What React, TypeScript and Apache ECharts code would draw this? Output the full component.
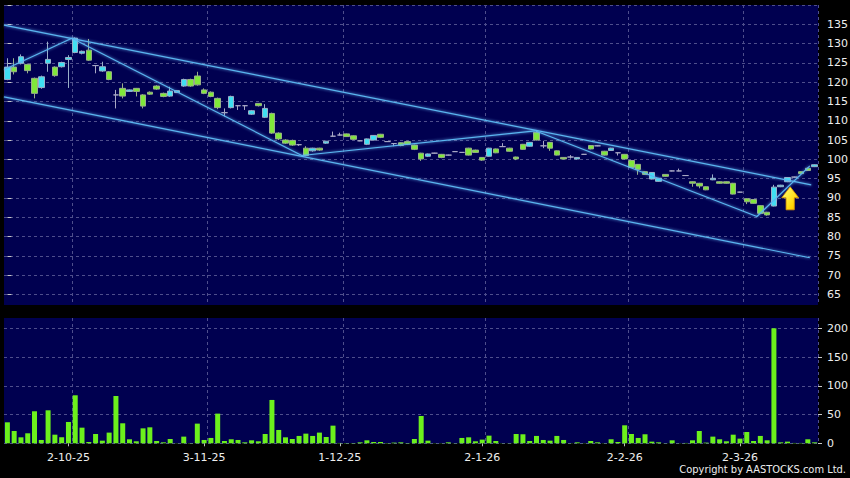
import React, { useEffect, useRef } from "react";
import * as echarts from "echarts";

// Trading days (d-m-yy)
const categories: string[] = [
  "18-9-25", "19-9-25", "22-9-25", "23-9-25", "24-9-25", "25-9-25", "26-9-25", "29-9-25", "30-9-25",
  "2-10-25", "3-10-25", "6-10-25", "8-10-25", "9-10-25", "10-10-25", "13-10-25", "14-10-25", "15-10-25", "16-10-25", "17-10-25",
  "20-10-25", "21-10-25", "22-10-25", "23-10-25", "24-10-25", "27-10-25", "28-10-25", "30-10-25", "31-10-25",
  "3-11-25", "4-11-25", "5-11-25", "6-11-25", "7-11-25", "10-11-25", "11-11-25", "12-11-25", "13-11-25", "14-11-25",
  "17-11-25", "18-11-25", "19-11-25", "20-11-25", "21-11-25", "24-11-25", "25-11-25", "26-11-25", "27-11-25", "28-11-25",
  "1-12-25", "2-12-25", "3-12-25", "4-12-25", "5-12-25", "8-12-25", "9-12-25", "10-12-25", "11-12-25", "12-12-25",
  "15-12-25", "16-12-25", "17-12-25", "18-12-25", "19-12-25", "22-12-25", "23-12-25", "24-12-25", "29-12-25", "30-12-25", "31-12-25",
  "2-1-26", "5-1-26", "6-1-26", "7-1-26", "8-1-26", "9-1-26", "12-1-26", "13-1-26", "14-1-26", "15-1-26", "16-1-26",
  "19-1-26", "20-1-26", "21-1-26", "22-1-26", "23-1-26", "26-1-26", "27-1-26", "28-1-26", "29-1-26", "30-1-26",
  "2-2-26", "3-2-26", "4-2-26", "5-2-26", "6-2-26", "9-2-26", "10-2-26", "11-2-26", "12-2-26", "13-2-26",
  "16-2-26", "20-2-26", "23-2-26", "24-2-26", "25-2-26", "26-2-26", "27-2-26",
  "2-3-26", "3-3-26", "4-3-26", "5-3-26", "6-3-26", "9-3-26", "10-3-26", "11-3-26", "12-3-26", "13-3-26", "16-3-26", "17-3-26",
];

const tickLabels: string[] = ["2-10-25", "3-11-25", "1-12-25", "2-1-26", "2-2-26", "2-3-26"];

// [open, close, low, high]
const ohlc: number[][] = [
  [120.7, 123.9, 120.5, 126.2], [123.9, 122.7, 122.0, 126.2], [124.9, 126.6, 124.6, 127.2], [124.6, 123.0, 122.3, 124.8],
  [121.0, 117.1, 115.8, 121.2], [118.6, 121.4, 118.3, 121.7], [124.9, 125.9, 122.7, 130.5], [123.9, 121.7, 121.4, 124.1],
  [124.0, 125.1, 123.8, 125.3], [125.9, 126.4, 118.5, 127.0], [127.7, 131.4, 127.5, 131.6], [127.5, 128.0, 127.2, 128.2],
  [128.3, 125.7, 125.5, 131.2], [124.3, 124.3, 122.3, 124.4], [122.9, 124.0, 122.7, 125.3], [122.7, 120.7, 120.5, 122.9],
  [116.7, 116.7, 113.2, 118.0], [118.4, 116.4, 115.8, 119.7], [117.6, 118.0, 117.5, 118.1], [118.4, 117.6, 116.3, 118.5],
  [116.7, 113.8, 113.2, 116.9], [117.4, 116.9, 116.7, 117.6], [119.0, 118.2, 118.0, 119.2], [117.1, 116.3, 116.1, 117.3],
  [116.4, 117.7, 116.2, 118.8], [117.3, 117.8, 117.2, 117.9], [119.0, 120.7, 118.8, 120.9], [120.7, 119.0, 118.8, 120.9],
  [121.6, 119.3, 119.1, 122.7], [118.0, 117.1, 116.9, 118.4], [117.4, 116.3, 116.1, 117.6], [115.8, 113.4, 113.0, 116.0],
  [112.1, 112.1, 111.1, 113.2], [113.4, 116.3, 113.2, 116.5], [113.9, 113.9, 112.8, 114.0], [113.9, 113.9, 112.8, 114.0],
  [111.7, 112.6, 111.5, 112.8], [114.5, 113.9, 113.7, 114.6], [110.9, 113.2, 110.7, 114.3], [111.9, 106.8, 106.6, 112.1],
  [106.8, 105.3, 105.0, 107.0], [105.0, 104.2, 104.0, 105.2], [104.9, 103.7, 103.5, 105.1], [103.8, 103.8, 103.5, 104.0],
  [102.9, 101.0, 100.8, 103.4], [102.2, 102.9, 102.0, 103.0], [102.9, 102.4, 102.2, 103.0], [104.2, 104.7, 104.0, 104.8],
  [106.0, 106.0, 105.9, 107.2], [106.3, 106.3, 106.2, 106.9], [106.6, 105.9, 105.8, 106.7], [106.1, 105.2, 105.0, 106.2],
  [104.8, 104.8, 104.7, 104.9], [103.9, 105.3, 103.7, 105.4], [105.0, 106.2, 104.9, 106.3], [106.5, 105.7, 105.5, 106.6],
  [104.6, 104.6, 104.5, 104.7], [104.1, 104.1, 103.4, 104.2], [104.3, 103.6, 103.4, 104.4], [104.6, 103.9, 103.7, 104.8],
  [103.7, 102.6, 102.4, 103.8], [101.6, 100.1, 99.6, 101.7], [100.8, 101.4, 100.6, 101.5], [101.6, 101.6, 101.5, 101.7],
  [101.3, 100.5, 100.3, 101.4], [101.1, 101.1, 101.0, 101.2], [102.0, 102.0, 101.9, 102.1], [101.8, 101.8, 101.7, 101.9],
  [102.9, 101.1, 101.0, 103.0], [102.4, 101.8, 101.7, 102.5], [100.5, 99.8, 99.6, 100.6], [100.8, 102.9, 100.7, 103.0],
  [102.7, 101.7, 101.6, 102.8], [103.3, 103.3, 103.2, 104.2], [102.9, 102.1, 102.0, 103.0], [100.6, 100.1, 99.8, 100.7],
  [103.9, 102.6, 102.5, 104.0], [103.4, 104.4, 103.3, 104.5], [107.0, 105.0, 104.9, 107.6], [103.5, 103.5, 102.9, 104.8],
  [104.4, 102.9, 102.2, 104.5], [102.2, 101.1, 101.0, 102.3], [100.5, 100.1, 100.0, 100.6], [100.6, 100.6, 100.2, 101.1],
  [100.1, 100.5, 100.0, 100.6], [101.3, 101.3, 101.2, 101.4], [103.6, 102.7, 102.6, 103.7], [103.5, 103.5, 103.4, 103.6],
  [102.1, 101.1, 101.0, 102.2], [102.3, 102.9, 102.2, 103.0], [101.7, 101.7, 101.0, 101.8], [101.3, 100.1, 100.0, 101.4],
  [99.7, 97.9, 97.8, 99.8], [98.7, 97.4, 96.0, 98.8], [96.8, 96.1, 96.0, 96.9], [94.9, 96.6, 94.8, 96.7],
  [94.3, 95.1, 94.2, 95.2], [96.1, 95.6, 95.5, 96.2], [97.0, 97.0, 96.9, 97.1], [97.0, 97.0, 96.9, 97.6],
  [95.8, 95.8, 95.7, 95.9], [94.2, 93.8, 92.9, 94.3], [93.8, 93.1, 92.5, 93.9], [92.9, 92.1, 92.0, 93.0],
  [94.7, 95.1, 94.6, 96.1], [94.2, 93.8, 93.7, 94.3], [94.2, 93.8, 93.7, 94.3], [93.8, 91.0, 90.9, 93.9],
  [91.5, 91.5, 91.4, 91.6], [89.8, 89.0, 88.4, 89.9], [89.6, 88.6, 88.5, 89.7], [88.0, 86.0, 85.8, 88.1],
  [86.3, 85.6, 85.4, 86.4], [87.9, 92.8, 87.8, 93.4], [92.9, 93.3, 92.8, 93.4], [94.2, 95.3, 94.1, 95.4],
  [95.4, 95.4, 95.3, 95.5], [96.8, 96.3, 96.2, 96.9], [97.7, 97.1, 97.0, 97.8], [98.1, 98.6, 98.0, 98.7],
];

const volume: number[] = [
  36.5, 21.4, 10.4, 17.4, 55.7, 5.8, 57.4, 15, 10.4, 37.1,
  83.5, 27.2, 2.3, 16.2, 4.6, 18.6, 82.3, 34.8, 7, 3.5,
  26, 27.8, 4, 1.7, 7.5, 0.3, 11.6, 0.5, 34.2, 5.8,
  9.3, 51.6, 4, 7, 5.8, 1.7, 5.2, 3.5, 16.2, 75.4,
  23.2, 10.4, 7.5, 12.8, 16.8, 12.8, 18.6, 11, 30.7, 0.6,
  0.5, 0.5, 1.7, 5.2, 2.3, 2.3, 0.5, 1.2, 1.7, 0.5,
  7.5, 47.5, 4.6, 0.3, 0.3, 1.7, 0.3, 9.3, 10.4, 3.5,
  6.4, 13.3, 4, 0.3, 0.3, 16.2, 15.7, 4, 12.8, 5.8,
  4.6, 12.8, 5.8, 0.3, 1.7, 0.3, 4, 1.7, 0.3, 7,
  2.3, 31.3, 16.2, 9.3, 15.7, 2.9, 1.7, 0.3, 5.2, 0.3,
  0.6, 5.2, 21.4, 1.2, 11.6, 7, 3.5, 15, 8.1, 19.7,
  4, 12.8, 5.2, 205.8, 1.7, 2.9, 0.6, 0.6, 7, 1.7,
];

// Trend lines as [category position, price]
const upperChannel: number[][] = [[-0.5, 134.8], [118.5, 93.4]];
const lowerChannel: number[][] = [[-0.5, 116.2], [118.3, 74.5]];
const swingLine: number[][] = [[-0.5, 123.2], [9.5, 131.4], [43.4, 101.0], [77.8, 107.4], [110.5, 85.2], [118.3, 98.3]];
const arrowPoint: number[][] = [[115.4, 89.9]];

const FONT = "DejaVu Sans";
const NAVY = "#000050";
const GRID_LINE = "#4e4e8c";
const TEXT = "#eeeeee";
const L = 4;
const R = 32;

const isLabel = (i: number) => tickLabels.includes(categories[i]);
const isBoundary = (i: number) => i > 0 && isLabel(i - 1);

const bgXAxis = (gridIndex: number) => ({
  gridIndex,
  type: "category",
  data: categories,
  boundaryGap: true,
  z: 1,
  axisLine: { show: false },
  axisTick: { show: false },
  axisLabel: { show: false },
  splitLine: {
    show: true,
    interval: (i: number) => isBoundary(i),
    lineStyle: { color: GRID_LINE, type: [3, 3], width: 1 },
  },
});

const trendStyle = {
  color: "#5ab6f0",
  width: 1.2,
  shadowBlur: 3,
  shadowColor: "rgba(110,190,255,0.9)",
};

const option: any = {
  animation: false,
  backgroundColor: "#000000",
  grid: [
    { left: L, right: R, top: 5, height: 300, show: true, backgroundColor: NAVY, borderWidth: 0, z: 0, outerBoundsMode: "none" },
    { left: L, right: R, top: 5, height: 289.4, outerBoundsMode: "none" },
    { left: L, right: R, top: 318, height: 125.3, show: true, backgroundColor: NAVY, borderWidth: 0, z: 0, outerBoundsMode: "none" },
    { left: L, right: R, top: 328.3, height: 115, outerBoundsMode: "none" },
  ],
  xAxis: [
    bgXAxis(0),
    { gridIndex: 1, type: "category", data: categories, boundaryGap: true, show: false },
    { gridIndex: 1, type: "value", min: -0.5, max: 119.5, show: false },
    bgXAxis(2),
    {
      gridIndex: 3,
      type: "category",
      data: categories,
      boundaryGap: true,
      z: 1,
      axisLine: { show: false },
      axisTick: {
        show: true,
        alignWithLabel: true,
        interval: (i: number) => isLabel(i),
        length: 3,
        lineStyle: { color: "#bbbbbb" },
      },
      axisLabel: {
        interval: (i: number) => isLabel(i),
        color: TEXT,
        fontFamily: FONT,
        fontSize: 11,
        margin: 9,
      },
      splitLine: { show: false },
    },
  ],
  yAxis: [
    { gridIndex: 0, type: "value", show: false },
    {
      gridIndex: 1,
      type: "value",
      position: "right",
      min: 65,
      max: 140,
      interval: 5,
      z: 1,
      axisLine: { show: false },
      axisTick: { show: true, length: 4, lineStyle: { color: "#c8c8c8" } },
      axisLabel: {
        color: TEXT,
        fontFamily: FONT,
        fontSize: 11,
        margin: 9,
        formatter: (v: number) => (v === 140 ? "" : String(v)),
      },
      splitLine: { show: true, lineStyle: { color: GRID_LINE, type: [3, 3], width: 1 } },
    },
    { gridIndex: 2, type: "value", show: false },
    {
      gridIndex: 3,
      type: "value",
      position: "right",
      min: 0,
      max: 200,
      interval: 50,
      z: 1,
      axisLine: { show: false },
      axisTick: { show: true, length: 4, lineStyle: { color: "#c8c8c8" } },
      axisLabel: { color: TEXT, fontFamily: FONT, fontSize: 11, margin: 9 },
      splitLine: { show: true, lineStyle: { color: GRID_LINE, type: [3, 3], width: 1 } },
    },
  ],
  series: [
    {
      type: "candlestick",
      xAxisIndex: 1,
      yAxisIndex: 1,
      data: ohlc,
      barWidth: 6,
      z: 2,
      itemStyle: {
        color: "#3fe0f2",
        color0: "#80e83a",
        borderColor: "#9ab0c8",
        borderColor0: "#98b088",
        borderColorDoji: "#a8a8c4",
        borderWidth: 1,
      },
    },
    { type: "line", xAxisIndex: 2, yAxisIndex: 1, data: upperChannel, symbol: "none", silent: true, z: 3, lineStyle: trendStyle },
    { type: "line", xAxisIndex: 2, yAxisIndex: 1, data: lowerChannel, symbol: "none", silent: true, z: 3, lineStyle: trendStyle },
    { type: "line", xAxisIndex: 2, yAxisIndex: 1, data: swingLine, symbol: "none", silent: true, z: 3, lineStyle: trendStyle },
    {
      type: "scatter",
      xAxisIndex: 2,
      yAxisIndex: 1,
      data: arrowPoint,
      symbol: "path://M8.5,0 L17,11 L12.6,11 L12.6,23 L4.4,23 L4.4,11 L0,11 Z",
      symbolSize: [17, 23],
      silent: true,
      z: 5,
      itemStyle: {
        opacity: 1,
        color: new echarts.graphic.LinearGradient(0, 0, 1, 1, [
          { offset: 0, color: "#fffcd0" },
          { offset: 0.3, color: "#fff04a" },
          { offset: 0.75, color: "#ffd400" },
          { offset: 1, color: "#f0a400" },
        ]),
        borderColor: "#e09a00",
        borderWidth: 0.8,
      },
    },
    {
      type: "bar",
      xAxisIndex: 4,
      yAxisIndex: 3,
      data: volume,
      barWidth: 5,
      z: 2,
      itemStyle: { color: "#6cf01c" },
    },
  ],
  graphic: [
    {
      type: "text",
      right: 4,
      top: 464,
      style: {
        text: "Copyright by AASTOCKS.com Ltd.",
        fill: TEXT,
        font: `11px 'DejaVu Sans Condensed', 'Liberation Sans', sans-serif`,
      },
    },
  ],
};

export default function App() {
  const ref = useRef<HTMLDivElement>(null);
  useEffect(() => {
    if (!ref.current) return;
    const chart = echarts.init(ref.current, null, { renderer: "svg" });
    chart.setOption(option);
    return () => chart.dispose();
  }, []);
  return (
    <div
      ref={ref}
      style={{ position: "absolute", left: 0, top: 0, width: 850, height: 478, background: "#000" }}
    />
  );
}
